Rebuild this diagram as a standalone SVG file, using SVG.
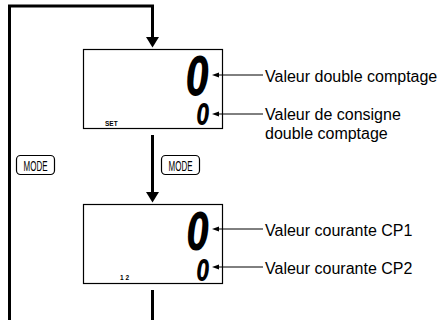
<svg xmlns="http://www.w3.org/2000/svg" width="441" height="320" viewBox="0 0 441 320">
<style>
.box{fill:#fff;stroke:#000;stroke-width:1.2}
.flow{fill:none;stroke:#000;stroke-width:3}
.head{fill:#000;stroke:none}
.ptr{fill:none;stroke:#000;stroke-width:1}
.lbl{font-family:"Liberation Sans",Arial,sans-serif;font-size:16px;fill:#000}
.tiny{font-family:"Liberation Sans",Arial,sans-serif;font-size:6.5px;font-weight:bold;fill:#000}
.dig{font-family:"DejaVu Sans",sans-serif;font-weight:bold;font-style:italic;fill:#000;text-anchor:end}
.mode{fill:#fff;stroke:#000;stroke-width:1.2}
.modet{font-family:"Liberation Sans",Arial,sans-serif;font-size:14px;fill:#000;text-anchor:middle}
</style>
<g id="display1">
<rect class="box" x="83.5" y="49.5" width="139" height="79"/>
<text class="dig" font-size="39.6" transform="translate(209.5,95) scale(0.85,1.35)">0</text>
<text class="dig" font-size="22" transform="translate(209.5,125) scale(0.85,1.35)">0</text>
<text class="tiny" x="105" y="126">SET</text>
</g>
<g id="display2">
<rect class="box" x="83.5" y="204.5" width="139" height="79"/>
<text class="dig" font-size="38.5" transform="translate(209.5,250) scale(0.85,1.35)">0</text>
<text class="dig" font-size="22" transform="translate(209.5,281) scale(0.85,1.35)">0</text>
<text class="tiny" x="120" y="280">1  2</text>
</g>
<g id="mode-left">
<rect class="mode" x="16.5" y="155.5" width="38" height="19" rx="4"/>
<text class="modet" x="35.5" y="170.5" textLength="24" lengthAdjust="spacingAndGlyphs">MODE</text>
</g>
<g id="mode-right">
<rect class="mode" x="161.5" y="155.5" width="38" height="19" rx="4"/>
<text class="modet" x="180.5" y="170.5" textLength="24" lengthAdjust="spacingAndGlyphs">MODE</text>
</g>
<g id="labels">
<text class="lbl" x="265" y="82">Valeur double comptage</text>
<text class="lbl" x="265" y="120">Valeur de consigne</text>
<text class="lbl" x="265" y="139">double comptage</text>
<text class="lbl" x="265" y="236">Valeur courante CP1</text>
<text class="lbl" x="265" y="274">Valeur courante CP2</text>
</g>
<g id="connectors">
<polyline class="flow" points="9.5,320 9.5,6 152.5,6 152.5,38"/>
<polygon class="head" points="146,37 159,37 152.5,47.5"/>
<line class="flow" x1="152.5" y1="135" x2="152.5" y2="193"/>
<polygon class="head" points="146,192 159,192 152.5,202.5"/>
<line class="flow" x1="152.5" y1="290" x2="152.5" y2="320"/>
<line class="ptr" x1="263" y1="75" x2="218" y2="75"/>
<polygon class="head" points="212,75 219,72.5 219,77.5"/>
<line class="ptr" x1="263" y1="114" x2="218" y2="114"/>
<polygon class="head" points="212,114 219,111.5 219,116.5"/>
<line class="ptr" x1="263" y1="229" x2="218" y2="229"/>
<polygon class="head" points="212,229 219,226.5 219,231.5"/>
<line class="ptr" x1="263" y1="267" x2="218" y2="267"/>
<polygon class="head" points="212,267 219,264.5 219,269.5"/>
</g>
</svg>
